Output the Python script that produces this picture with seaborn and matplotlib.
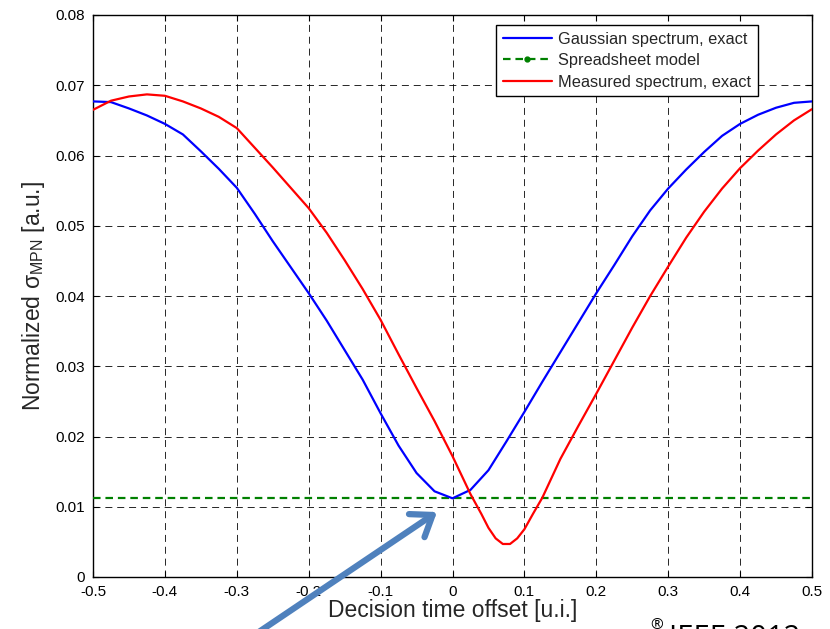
import numpy as np
import pandas as pd
import matplotlib
matplotlib.use("Agg")
import matplotlib.pyplot as plt
from matplotlib.lines import Line2D
from matplotlib.patches import FancyArrowPatch
import seaborn as sns

# ---------------- data ----------------
x_gauss = [-0.500, -0.475, -0.450, -0.425, -0.400, -0.375, -0.350, -0.325, -0.300,
           -0.275, -0.250, -0.225, -0.200, -0.175, -0.150, -0.125, -0.100, -0.075,
           -0.050, -0.025, 0.000, 0.025, 0.050, 0.075, 0.100, 0.125, 0.150, 0.175,
           0.200, 0.225, 0.250, 0.275, 0.300, 0.325, 0.350, 0.375, 0.400, 0.425,
           0.450, 0.475, 0.500]
y_gauss = [0.0677, 0.0676, 0.0667, 0.0657, 0.0645, 0.0630, 0.0606, 0.0581, 0.0554,
           0.0517, 0.0478, 0.0441, 0.0404, 0.0365, 0.0323, 0.0281, 0.0233, 0.0187,
           0.0148, 0.0122, 0.0112, 0.0124, 0.0152, 0.0193, 0.0235, 0.0278, 0.0320,
           0.0362, 0.0404, 0.0444, 0.0485, 0.0522, 0.0553, 0.0580, 0.0605, 0.0628,
           0.0645, 0.0658, 0.0668, 0.0675, 0.0677]

x_meas = [-0.500, -0.475, -0.450, -0.425, -0.400, -0.375, -0.350, -0.325, -0.300,
          -0.275, -0.250, -0.225, -0.200, -0.175, -0.150, -0.125, -0.100, -0.075,
          -0.050, -0.025, 0.000, 0.025, 0.040, 0.050, 0.060, 0.070, 0.080, 0.090,
          0.100, 0.112, 0.125, 0.150, 0.175, 0.200, 0.225, 0.250, 0.275, 0.300,
          0.325, 0.350, 0.375, 0.400, 0.425, 0.450, 0.475, 0.500]
y_meas = [0.0665, 0.0678, 0.0684, 0.0687, 0.0685, 0.0677, 0.0667, 0.0655, 0.0639,
          0.0611, 0.0583, 0.0554, 0.0525, 0.0490, 0.0451, 0.0410, 0.0366, 0.0317,
          0.0269, 0.0222, 0.0172, 0.0118, 0.0090, 0.0070, 0.0055, 0.0047, 0.0047,
          0.0055, 0.0068, 0.0090, 0.0113, 0.0168, 0.0215, 0.0261, 0.0308, 0.0355,
          0.0400, 0.0442, 0.0483, 0.0520, 0.0553, 0.0582, 0.0607, 0.0630, 0.0650,
          0.0666]

x_sheet = [-0.5, 0.5]
y_sheet = [0.0112, 0.0112]

series_names = ["Gaussian spectrum, exact", "Spreadsheet model", "Measured spectrum, exact"]
x_ticks = [-0.5, -0.4, -0.3, -0.2, -0.1, 0, 0.1, 0.2, 0.3, 0.4, 0.5]
x_ticklabels = ["-0.5", "-0.4", "-0.3", "-0.2", "-0.1", "0", "0.1", "0.2", "0.3", "0.4", "0.5"]
y_ticks = [0, 0.01, 0.02, 0.03, 0.04, 0.05, 0.06, 0.07, 0.08]
y_ticklabels = ["0", "0.01", "0.02", "0.03", "0.04", "0.05", "0.06", "0.07", "0.08"]
x_label = "Decision time offset [u.i.]"
y_label = r"Normalized $\sigma_{\mathrm{MPN}}$ [a.u.]"
credit_mark = "®"
credit_text = "IEEE 2012"

# ---------------- style ----------------
sns.set_style("ticks")
plt.rcParams["font.family"] = ["Liberation Sans", "DejaVu Sans"]
plt.rcParams["axes.unicode_minus"] = False
plt.rcParams["mathtext.fontset"] = "custom"
plt.rcParams["mathtext.rm"] = "Liberation Sans"
plt.rcParams["mathtext.it"] = "Liberation Sans"
plt.rcParams["mathtext.bf"] = "Liberation Sans:bold"

fig = plt.figure(figsize=(8.30, 6.29), dpi=100)
ax = fig.add_axes([93 / 830, 1 - 577 / 629, (812 - 93) / 830, (577 - 15) / 629])

blue, green, red = "#0000FF", "#008000", "#FF0000"

df_g = pd.DataFrame({"x": x_gauss, "y": y_gauss})
df_m = pd.DataFrame({"x": x_meas, "y": y_meas})
df_s = pd.DataFrame({"x": x_sheet, "y": y_sheet})

sns.lineplot(data=df_g, x="x", y="y", ax=ax, color=blue, lw=1.6, zorder=4, sort=False)
sns.lineplot(data=df_s, x="x", y="y", ax=ax, color=green, lw=1.6, zorder=3, sort=False,
             dashes=False, linestyle=(0, (3.4, 2.2)))
sns.lineplot(data=df_m, x="x", y="y", ax=ax, color=red, lw=1.6, zorder=5, sort=False)

ax.set_xlim(-0.5, 0.5)
ax.set_ylim(0, 0.08)
ax.set_xticks(x_ticks)
ax.set_xticklabels(x_ticklabels)
ax.set_yticks(y_ticks)
ax.set_yticklabels(y_ticklabels)
ax.tick_params(direction="in", length=4, width=0.8, top=True, right=True,
               labelsize=11, colors="black", pad=6)
ax.set_xlabel(x_label, fontsize=16.5, labelpad=0)
ax.set_ylabel(y_label, fontsize=16.5, labelpad=6)

ax.grid(True, color="black", lw=0.7, linestyle=(0, (7.2, 5.0)), alpha=0.85)
ax.set_axisbelow(True)
for s in ax.spines.values():
    s.set_visible(True)
    s.set_color("black")
    s.set_linewidth(1.0)

handles = [
    Line2D([], [], color=blue, lw=1.6),
    Line2D([], [], color=green, lw=1.6, linestyle=(0, (3.4, 2.2)), marker=".", markersize=7),
    Line2D([], [], color=red, lw=1.6),
]
leg = ax.legend(handles, series_names, loc="upper right",
                bbox_to_anchor=((758 - 93) / 719, 1 - (25 - 15) / 562),
                borderaxespad=0, fontsize=11.8, handlelength=3.0, handletextpad=0.4,
                labelspacing=0.4, borderpad=0.4, fancybox=False, framealpha=1,
                edgecolor="black", shadow=False)
leg.get_frame().set_linewidth(1.0)

# annotation arrow (pointing at the spreadsheet/Gaussian minimum)
arrow = FancyArrowPatch((235 / 830, 1 - 648 / 629), (437 / 830, 1 - 512 / 629),
                        transform=fig.transFigure, arrowstyle="->,head_length=0.55,head_width=0.4",
                        mutation_scale=25, lw=4.5, color="#4F81BD", shrinkA=0, shrinkB=0,
                        capstyle="round", joinstyle="round", clip_on=False)
fig.patches.append(arrow)

fig.text(650 / 830, 1 - 618 / 629, credit_mark, fontsize=11, family="Open Sans",
         va="top", ha="left", color="black")
fig.text(669 / 830, 1 - 646 / 629, credit_text, fontsize=21, family="Open Sans",
         va="baseline", ha="left", color="black")

fig.savefig("out.png", dpi=100)
